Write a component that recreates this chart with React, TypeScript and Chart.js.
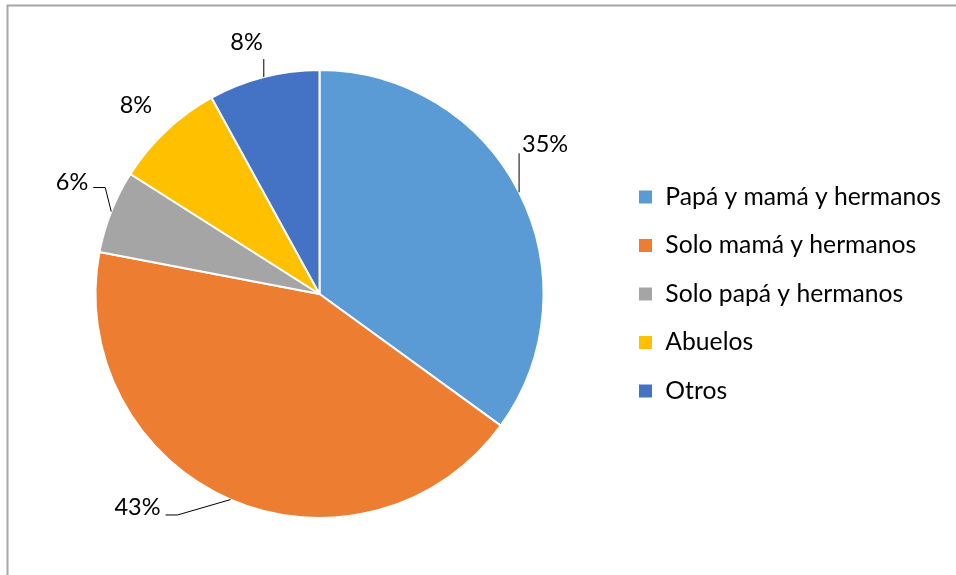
import React, { useEffect, useRef } from "react";
import { Chart, registerables } from "chart.js";

Chart.register(...registerables);

const categories = [
  "Papá y mamá y hermanos",
  "Solo mamá y hermanos",
  "Solo papá y hermanos",
  "Abuelos",
  "Otros",
];
const values = [35, 43, 6, 8, 8];
const percentLabels = ["35%", "43%", "6%", "8%", "8%"];
const colors = ["#5B9BD5", "#ED7D31", "#A5A5A5", "#FFC000", "#4472C4"];

const FONT = "Lato";
const LEGEND_FONT_SIZE = 24.7;
const LABEL_FONT_SIZE = 23.5;

// label placement relative to the slice's outer edge point at mid-angle (style only)
const labelLayout: { line: number[][]; text: number[]; align: CanvasTextAlign }[] = [
  { line: [[0, -39]], text: [3, -48], align: "left" },
  { line: [[-53, 15.4], [-65, 15.4]], text: [-70, 8], align: "right" },
  { line: [[-6, -24], [-18, -24]], text: [-23, -29], align: "right" },
  { line: [], text: [-14, -25], align: "right" },
  { line: [[0, -18]], text: [-1, -34.5], align: "right" },
];

const LEGEND_BOX_X = 638;
const LEGEND_PAD = 48.5 - LEGEND_FONT_SIZE;
const PIE_CX = 319.5;

const decorPlugin = {
  id: "decor",
  beforeLayout(chart: any) {
    const lg = chart.legend;
    if (lg && !lg.__patched) {
      const orig = lg.fit.bind(lg);
      lg.fit = function () {
        orig();
        this.width = chart.width - (LEGEND_BOX_X - LEGEND_PAD);
      };
      lg.__patched = true;
    }
  },
  beforeDraw(chart: any) {
    const ctx = chart.ctx;
    ctx.save();
    ctx.fillStyle = "#ffffff";
    ctx.fillRect(0, 0, chart.width, chart.height);
    ctx.strokeStyle = "#a6a6a6";
    ctx.lineWidth = 2;
    ctx.beginPath();
    ctx.moveTo(7.5, chart.height + 2);
    ctx.lineTo(7.5, 5.5);
    ctx.lineTo(chart.width + 2, 5.5);
    ctx.stroke();
    ctx.restore();
  },
  afterDatasetsDraw(chart: any) {
    const ctx = chart.ctx;
    const meta = chart.getDatasetMeta(0);
    ctx.save();
    meta.data.forEach((arc: any, i: number) => {
      const p = arc.getProps(["x", "y", "startAngle", "endAngle", "outerRadius"], true);
      const mid = (p.startAngle + p.endAngle) / 2;
      const ax = p.x + p.outerRadius * Math.cos(mid);
      const ay = p.y + p.outerRadius * Math.sin(mid);
      const cfg = labelLayout[i];
      if (cfg.line.length) {
        ctx.strokeStyle = "#000000";
        ctx.lineWidth = 1;
        ctx.beginPath();
        ctx.moveTo(ax, ay);
        cfg.line.forEach(([dx, dy]) => ctx.lineTo(ax + dx, ay + dy));
        ctx.stroke();
      }
      ctx.fillStyle = "#000000";
      ctx.font = `${LABEL_FONT_SIZE}px ${FONT}`;
      ctx.textAlign = cfg.align;
      ctx.textBaseline = "middle";
      ctx.fillText(percentLabels[i], ax + cfg.text[0], ay + cfg.text[1]);
    });
    ctx.restore();
  },
};

export default function App() {
  const ref = useRef<HTMLCanvasElement | null>(null);
  useEffect(() => {
    if (!ref.current) return;
    const chart = new Chart(ref.current, {
      type: "pie",
      data: {
        labels: categories,
        datasets: [
          {
            data: values,
            backgroundColor: colors,
            borderColor: "#ffffff",
            borderWidth: 2,
          },
        ],
      },
      options: {
        responsive: false,
        animation: false,
        devicePixelRatio: 1,
        layout: {
          padding: {
            top: 69,
            bottom: 56,
            right: 0,
            left: 2 * PIE_CX - (LEGEND_BOX_X - LEGEND_PAD),
          },
        },
        plugins: {
          tooltip: { enabled: false },
          legend: {
            position: "right",
            labels: {
              boxWidth: 15,
              boxHeight: 15,
              padding: LEGEND_PAD,
              color: "#000000",
              font: { family: FONT, size: LEGEND_FONT_SIZE },
            },
          },
        },
      },
      plugins: [decorPlugin],
    });
    return () => chart.destroy();
  }, []);
  return (
    <div style={{ position: "absolute", left: 0, top: 0, width: 956, height: 575 }}>
      <canvas ref={ref} width={956} height={575} />
    </div>
  );
}
